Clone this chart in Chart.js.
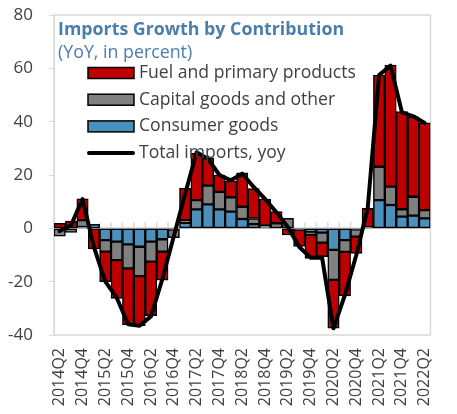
<!DOCTYPE html>
<html>
<head>
<meta charset="utf-8">
<script src="https://cdn.jsdelivr.net/npm/chart.js@4"></script>
<style>
  body { margin: 0; background: #fff; }
  canvas { display: block; }
</style>
</head>
<body>
<canvas id="chart" width="457" height="414"></canvas>
<script>
const quarters = [
  "2014Q2", "2014Q3", "2014Q4", "2015Q1", "2015Q2", "2015Q3", "2015Q4", "2016Q1",
  "2016Q2", "2016Q3", "2016Q4", "2017Q1", "2017Q2", "2017Q3", "2017Q4", "2018Q1",
  "2018Q2", "2018Q3", "2018Q4", "2019Q1", "2019Q2", "2019Q3", "2019Q4", "2020Q1",
  "2020Q2", "2020Q3", "2020Q4", "2021Q1", "2021Q2", "2021Q3", "2021Q4", "2022Q1",
  "2022Q2"
];
const consumerGoods = [
  0, 0, 0.5, 1.5, -4.4, -5, -6, -6.9,
  -5, -4.1, -0.5, 2.1, 7.1, 9, 7.1, 6.25,
  3.5, 1.6, 0.5, 0, 0, -0.5, -1.25, -1.6,
  -8.1, -4.4, -0.4, 0, 10.6, 8.75, 4.4, 4.75,
  3.75
];
const capitalGoods = [
  -2.9, -1.5, 2.6, 0, -4.35, -6.9, -9, -11,
  -7.5, -4.65, -3, 1, 3.5, 7, 6.6, 5.4,
  4.6, 2.1, 0.5, 1.9, 3.75, 0, -1.25, -3.75,
  -11.25, -4.4, -2.7, 0.5, 12.5, 6.9, 2.75, 7.1,
  3.1
];
const fuelPrimary = [
  1.9, 2.7, 8, -7.7, -11.25, -14.4, -21.25, -18.6,
  -20.25, -10.65, 0, 12, 17.5, 10.3, 6.3, 6.1,
  12.75, 11.25, 10, 4.4, -2.5, -6.3, -8.75, -5.25,
  -18.1, -16.5, -6.3, 7, 34.4, 45.6, 36.6, 30,
  32.7
];
const totalImports = [
  -1, 1.2, 11, -7, -20, -26, -36, -36.5,
  -33, -19, -3, 13, 28.5, 26, 20, 18,
  20.5, 15.5, 11, 6, 0.5, -7, -11, -11,
  -37.5, -25, -10, 7.5, 57.5, 61, 43.5, 42,
  39.5
];
const yTicks = [-40, -20, 0, 20, 40, 60, 80];

const chartTitle = "Imports Growth by Contribution";
const chartSubtitle = "(YoY, in percent)";
const fontFamily = "'Open Sans', 'Noto Sans', sans-serif";
const textColor = "#404040";
const frameColor = "#d9d9d9";

// frame, zero line with its tick marks, and the legend inside the plot
const decorations = {
  id: "decorations",
  beforeDatasetsDraw(chart) {
    const { ctx, chartArea: a, scales: { x, y } } = chart;
    ctx.save();
    ctx.strokeStyle = frameColor;
    ctx.lineWidth = 1.5;
    ctx.strokeRect(a.left, a.top, a.right - a.left, a.bottom - a.top);
    const y0 = y.getPixelForValue(0);
    ctx.strokeStyle = "#bfbfbf";
    ctx.beginPath();
    ctx.moveTo(a.left, y0);
    ctx.lineTo(a.right, y0);
    ctx.stroke();
    const step = x.getPixelForValue(1) - x.getPixelForValue(0);
    ctx.strokeStyle = frameColor;
    ctx.beginPath();
    for (let i = 0; i <= quarters.length; i++) {
      const px = x.getPixelForValue(0) - step / 2 + i * step;
      ctx.moveTo(px, y0);
      ctx.lineTo(px, y0 - 6);
    }
    ctx.stroke();
    ctx.restore();
  },
  afterDraw(chart) {
    const { ctx, chartArea: a } = chart;
    ctx.save();
    ctx.textBaseline = "middle";
    ctx.textAlign = "left";
    ctx.fillStyle = "#4a7ead";
    ctx.font = "bold 17.8px " + fontFamily;
    ctx.fillText(chartTitle, a.left + 4, a.top + 15);
    ctx.font = "17.8px " + fontFamily;
    ctx.fillText(chartSubtitle, a.left + 4, a.top + 38);

    const items = [chart.data.datasets[2], chart.data.datasets[1], chart.data.datasets[0], chart.data.datasets[3]];
    items.forEach((ds, i) => {
      const cy = a.top + 58 + i * 26.7;
      const bx = a.left + 34;
      if (ds.type === "line") {
        ctx.strokeStyle = ds.borderColor;
        ctx.lineWidth = 4;
        ctx.lineCap = "round";
        ctx.beginPath();
        ctx.moveTo(bx + 1, cy);
        ctx.lineTo(bx + 45, cy);
        ctx.stroke();
      } else {
        ctx.fillStyle = ds.backgroundColor;
        ctx.fillRect(bx, cy - 5.5, 46, 11);
        ctx.strokeStyle = "#000";
        ctx.lineWidth = 1.5;
        ctx.strokeRect(bx, cy - 5.5, 46, 11);
      }
      ctx.fillStyle = textColor;
      ctx.font = "17.6px " + fontFamily;
      ctx.fillText(ds.label, bx + 51, cy);
    });
    ctx.restore();
  }
};

const barStyle = {
  borderColor: "#000",
  borderWidth: 1.5,
  borderSkipped: false,
  categoryPercentage: 1,
  barPercentage: 1,
  stack: "parts"
};

new Chart(document.getElementById("chart"), {
  type: "bar",
  data: {
    labels: quarters,
    datasets: [
      { label: "Consumer goods", data: consumerGoods, backgroundColor: "#4a90bb", order: 2, ...barStyle },
      { label: "Capital goods and other", data: capitalGoods, backgroundColor: "#808080", order: 2, ...barStyle },
      { label: "Fuel and primary products", data: fuelPrimary, backgroundColor: "#c00000", order: 2, ...barStyle },
      {
        type: "line",
        label: "Total imports, yoy",
        data: totalImports,
        borderColor: "#000",
        borderWidth: 4,
        borderJoinStyle: "round",
        borderCapStyle: "round",
        pointRadius: 0,
        tension: 0,
        fill: false,
        stack: "total",
        order: 1
      }
    ]
  },
  options: {
    responsive: false,
    devicePixelRatio: 1,
    animation: false,
    layout: { padding: { top: 15, right: 4, left: 0, bottom: 0 } },
    plugins: {
      legend: { display: false },
      tooltip: { enabled: false }
    },
    scales: {
      x: {
        stacked: true,
        grid: { display: false, drawTicks: false },
        border: { display: false },
        ticks: {
          autoSkip: false,
          maxRotation: 90,
          minRotation: 90,
          padding: 13,
          color: textColor,
          font: { family: fontFamily, size: 16 },
          callback: (v, i) => (i % 2 === 0 ? quarters[i] : "")
        },
        afterFit: (scale) => { scale.height = 79; }
      },
      y: {
        stacked: true,
        min: yTicks[0],
        max: yTicks[yTicks.length - 1],
        afterBuildTicks: (scale) => { scale.ticks = yTicks.map(v => ({ value: v })); },
        grid: { drawOnChartArea: false, tickLength: 5, tickColor: frameColor },
        border: { color: frameColor },
        ticks: {
          padding: 16,
          color: textColor,
          font: { family: fontFamily, size: 17 }
        },
        afterFit: (scale) => {
          scale.width = 54;
          scale.paddingTop = 0;
          scale.paddingBottom = 0;
        }
      }
    }
  },
  plugins: [decorations]
});
</script>
</body>
</html>
